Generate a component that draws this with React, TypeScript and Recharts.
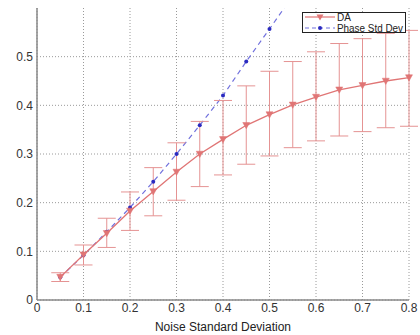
import React from "react";
import { LineChart, Line, XAxis, YAxis, CartesianGrid, ErrorBar, Legend } from "recharts";

const noise = [0.05, 0.1, 0.15, 0.2, 0.25, 0.3, 0.35, 0.4, 0.45, 0.5, 0.55, 0.6, 0.65, 0.7, 0.75, 0.8];
const daValues = [0.047, 0.093, 0.137, 0.183, 0.223, 0.263, 0.3, 0.33, 0.359, 0.381, 0.401, 0.417, 0.432, 0.441, 0.45, 0.457];
const daLow = [0.038, 0.072, 0.108, 0.143, 0.173, 0.205, 0.233, 0.257, 0.279, 0.296, 0.313, 0.327, 0.337, 0.346, 0.354, 0.357];
const daHigh = [0.056, 0.113, 0.168, 0.222, 0.272, 0.323, 0.367, 0.41, 0.44, 0.47, 0.49, 0.51, 0.527, 0.537, 0.548, 0.554];
const phaseValues: (number | null)[] = [0.047, 0.092, 0.14, 0.19, 0.243, 0.3, 0.359, 0.42, 0.49, 0.557, 0.625, null, null, null, null, null];
const xTicks = [0, 0.1, 0.2, 0.3, 0.4, 0.5, 0.6, 0.7, 0.8];
const yTicks = [0, 0.1, 0.2, 0.3, 0.4, 0.5];
const legendLabels = ["DA", "Phase Std Dev"];

const data = noise.map((x, i) => ({
  x,
  da: daValues[i],
  daErr: [daValues[i] - daLow[i], daHigh[i] - daValues[i]],
  phase: phaseValues[i],
}));

const RED = "#e07575";
const RED_ERR = "#e59393";
const BLUE = "#7070dd";
const BLUE_DOT = "#2a2ac0";
const FONT = "'Liberation Sans', Arial, sans-serif";

const TriDown = (props: any) => {
  const { cx, cy } = props;
  if (cx == null || cy == null) return null;
  const s = 3.5;
  return <polygon points={`${cx - s},${cy - s * 0.8} ${cx + s},${cy - s * 0.8} ${cx},${cy + s}`} fill={RED} stroke={RED} strokeWidth={0.5} />;
};

const BlueDot = (props: any) => {
  const { cx, cy, value } = props;
  if (cx == null || cy == null || value == null) return null;
  return <circle cx={cx} cy={cy} r={2} fill={BLUE_DOT} stroke="none" />;
};

const LegendBox = () => (
  <svg width={104} height={21} style={{ display: "block" }}>
    <rect x={0.5} y={0.5} width={103} height={20} fill="#fff" stroke="#222" strokeWidth={1} />
    <line x1={3} y1={5} x2={33} y2={5} stroke={RED} strokeWidth={1.2} />
    <polygon points="14.5,2.5 21.5,2.5 18,8.5" fill={RED} />
    <line x1={3} y1={16} x2={33} y2={16} stroke={BLUE} strokeWidth={1.2} strokeDasharray="4 3" />
    <circle cx={18} cy={16} r={2} fill={BLUE_DOT} />
    <text x={35} y={8.5} fontSize={10} fill="#222" fontFamily={FONT}>{legendLabels[0]}</text>
    <text x={35} y={19.5} fontSize={10} fill="#222" fontFamily={FONT} textLength={66} lengthAdjust="spacingAndGlyphs">{legendLabels[1]}</text>
  </svg>
);

export default function App() {
  return (
    <div style={{ position: "absolute", left: 0, top: 0, width: 420, height: 335, background: "#fff" }}>
      <LineChart width={420} height={335} data={data} margin={{ top: 8, right: 11, left: 0, bottom: 0 }}>
        <CartesianGrid stroke="#9a9a9a" strokeDasharray="1 2" strokeWidth={1} horizontalValues={yTicks} verticalValues={xTicks} />
        <XAxis
          dataKey="x"
          type="number"
          domain={[0, 0.8]}
          ticks={xTicks}
          tickFormatter={(v: number) => String(v)}
          tick={{ fontSize: 12, fill: "#333", fontFamily: FONT }}
          tickLine={false}
          axisLine={{ stroke: "#888", strokeWidth: 1.5 }}
          tickSize={3}
          tickMargin={0}
          height={35}
          label={{ value: "Noise Standard Deviation", position: "insideBottom", offset: 0, dy: -4, fontSize: 12, fill: "#222", fontFamily: FONT }}
        />
        <YAxis
          type="number"
          domain={[0, 0.6]}
          allowDataOverflow
          ticks={yTicks}
          tick={{ fontSize: 12, fill: "#333", fontFamily: FONT }}
          tickFormatter={(v: number) => String(v)}
          tickLine={false}
          tickSize={4}
          tickMargin={0}
          axisLine={{ stroke: "#888", strokeWidth: 1.5 }}
          width={37}
        />
        <Legend
          layout="horizontal"
          verticalAlign="middle"
          align="center"
          wrapperStyle={{ position: "absolute", left: 302, top: 12, width: 104, height: 21 }}
          content={() => <LegendBox />}
        />
        <Line
          dataKey="phase"
          stroke={BLUE}
          strokeWidth={1.2}
          strokeDasharray="5 4"
          dot={<BlueDot />}
          activeDot={false}
          isAnimationActive={false}
          connectNulls={false}
        />
        <Line
          dataKey="da"
          stroke={RED}
          strokeWidth={1.3}
          dot={<TriDown />}
          activeDot={false}
          isAnimationActive={false}
        >
          <ErrorBar dataKey="daErr" width={9} stroke={RED_ERR} strokeWidth={1} direction="y" />
        </Line>
      </LineChart>
    </div>
  );
}
